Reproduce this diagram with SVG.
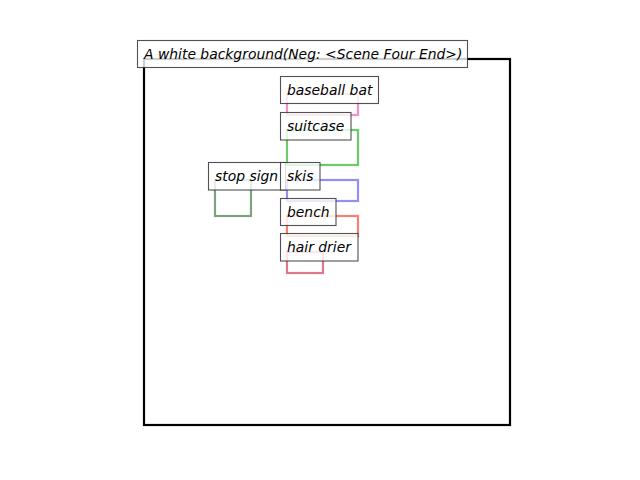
<svg xmlns="http://www.w3.org/2000/svg" width="640" height="480" viewBox="0 0 640 480">
  <style>
    .box { fill: none; stroke-width: 2.2; stroke-linejoin: miter; }
    .lbl rect { fill: #ffffff; fill-opacity: 0.8; stroke: #333333; stroke-opacity: 0.85; stroke-width: 1.1; }
    .lbl text { font-family: "DejaVu Sans", sans-serif; font-style: oblique; font-size: 13.9px; fill: #000000; }
  </style>
  <rect width="640" height="480" fill="#ffffff"/>

  <!-- scene frame -->
  <rect x="144" y="59" width="366" height="366" fill="none" stroke="#000000" stroke-width="2.2"/>

  <!-- object boxes -->
  <g id="connectors">
    <rect class="box" x="287" y="94" width="71" height="21" stroke="#f48fc8"/>
    <rect class="box" x="287" y="130" width="71" height="35" stroke="#6cca6c"/>
    <rect class="box" x="215" y="180" width="36" height="36" stroke="#80a080"/>
    <rect class="box" x="287" y="180" width="71" height="21" stroke="#9090f8"/>
    <rect class="box" x="287" y="216" width="71" height="20" stroke="#f88070"/>
    <rect class="box" x="287" y="252" width="36" height="21" stroke="#e07888"/>
  </g>

  <!-- labels -->
  <g id="title" class="lbl">
    <rect x="137.5" y="40.5" width="330" height="27"/>
    <text x="144" y="58.5">A white background(Neg: &lt;Scene Four End&gt;)</text>
  </g>
  <g id="baseball-bat" class="lbl">
    <rect x="280.5" y="76.5" width="98" height="27"/>
    <text x="287" y="94.5">baseball bat</text>
  </g>
  <g id="suitcase" class="lbl">
    <rect x="280.5" y="112.5" width="70.5" height="27.5"/>
    <text x="287" y="130.5">suitcase</text>
  </g>
  <g id="stop-sign" class="lbl">
    <rect x="208.5" y="162.5" width="77" height="27.5"/>
    <text x="215" y="180.5">stop sign</text>
  </g>
  <g id="skis" class="lbl">
    <rect x="280.5" y="162.5" width="39.5" height="27.5"/>
    <text x="287" y="180.5">skis</text>
  </g>
  <g id="bench" class="lbl">
    <rect x="280.5" y="198.5" width="55.5" height="27"/>
    <text x="287" y="216.5">bench</text>
  </g>
  <g id="hair-drier" class="lbl">
    <rect x="280.5" y="233.5" width="77.5" height="27.5"/>
    <text x="287" y="251.5">hair drier</text>
  </g>
</svg>
